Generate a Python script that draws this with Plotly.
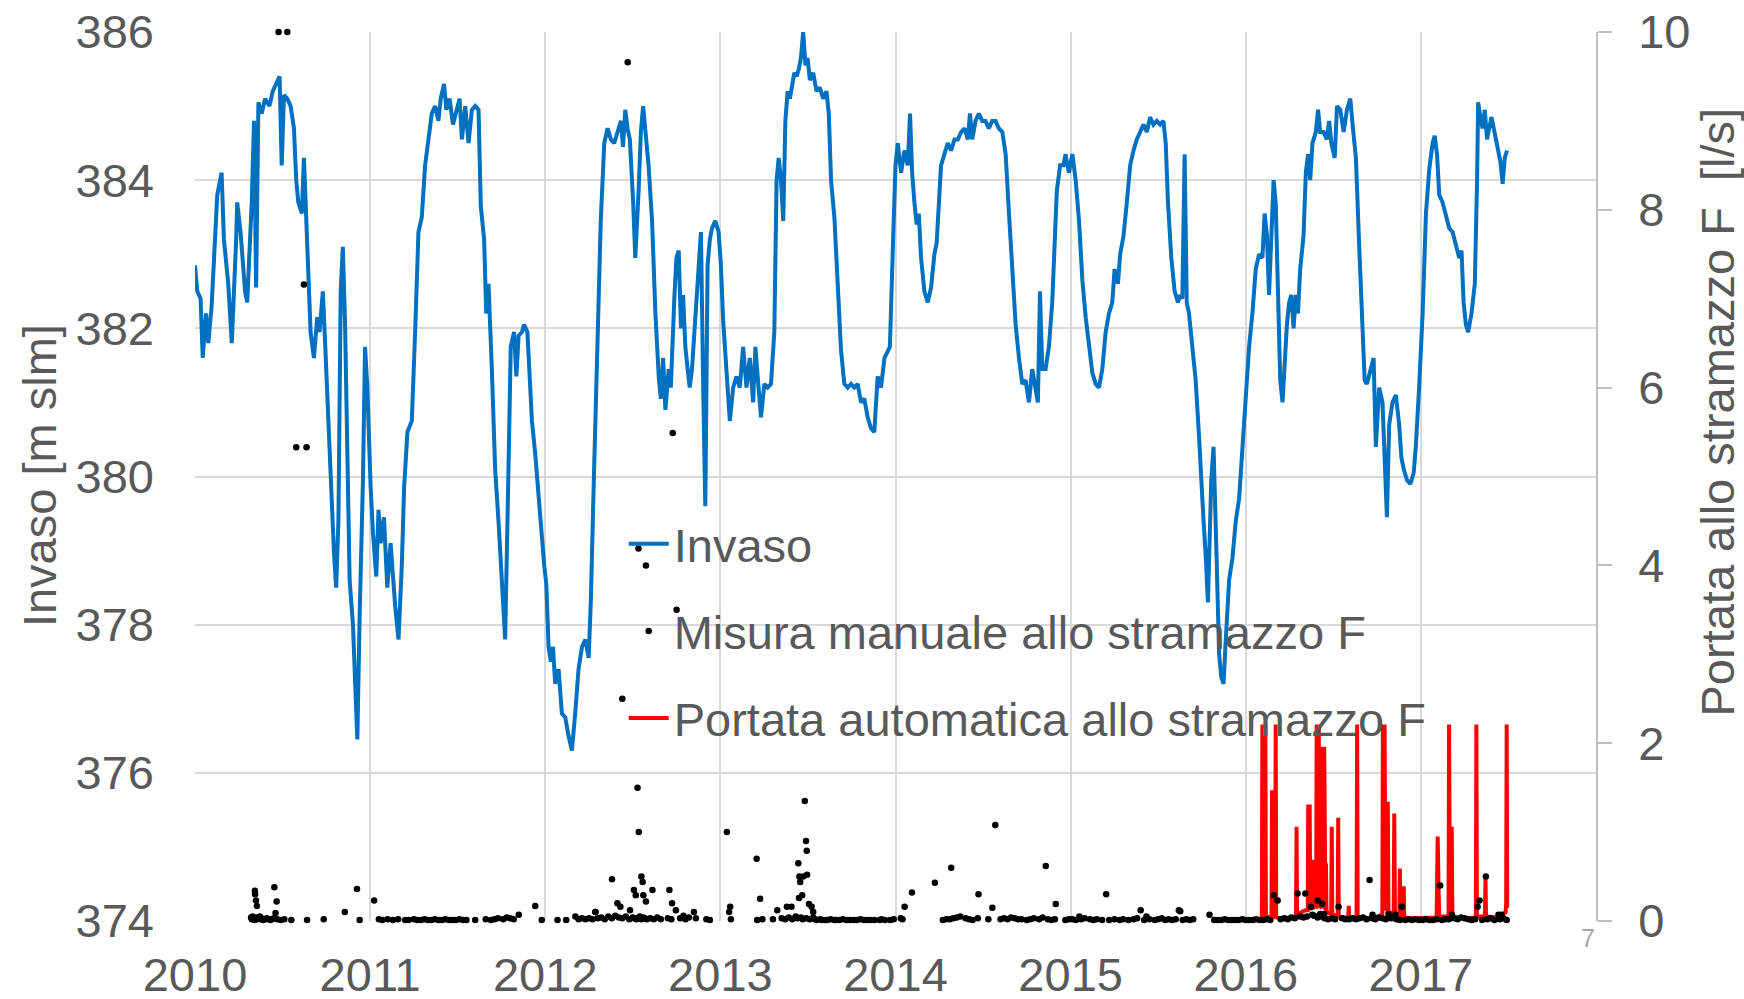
import plotly.graph_objects as go

# ---------------- data ----------------
inv_year = [2010.000, 2010.013, 2010.032, 2010.044, 2010.063, 2010.076, 2010.095, 2010.127, 2010.152, 2010.165,
            2010.190, 2010.210, 2010.235, 2010.241, 2010.260, 2010.286, 2010.298, 2010.324, 2010.337, 2010.349,
            2010.362, 2010.381, 2010.400, 2010.425, 2010.444, 2010.463, 2010.483, 2010.495, 2010.508, 2010.527,
            2010.546, 2010.565, 2010.578, 2010.590, 2010.610, 2010.622, 2010.641, 2010.660, 2010.679, 2010.698,
            2010.711, 2010.730, 2010.743, 2010.762, 2010.781, 2010.794, 2010.806, 2010.819, 2010.832, 2010.844,
            2010.857, 2010.870, 2010.883, 2010.902, 2010.914, 2010.927, 2010.940, 2010.959, 2010.971, 2010.984,
            2011.003, 2011.016, 2011.035, 2011.048, 2011.060, 2011.079, 2011.098, 2011.117, 2011.143, 2011.162,
            2011.181, 2011.194, 2011.213, 2011.238, 2011.257, 2011.276, 2011.295, 2011.314, 2011.333, 2011.352,
            2011.371, 2011.390, 2011.403, 2011.422, 2011.435, 2011.454, 2011.473, 2011.492, 2011.511, 2011.524,
            2011.543, 2011.562, 2011.581, 2011.600, 2011.619, 2011.632, 2011.651, 2011.663, 2011.676, 2011.695,
            2011.714, 2011.733, 2011.752, 2011.771, 2011.790, 2011.803, 2011.822, 2011.835, 2011.848, 2011.867,
            2011.879, 2011.898, 2011.911, 2011.924, 2011.943, 2011.962, 2011.981, 2011.994, 2012.006, 2012.019,
            2012.032, 2012.044, 2012.057, 2012.076, 2012.095, 2012.114, 2012.133, 2012.152, 2012.171, 2012.190,
            2012.210, 2012.229, 2012.248, 2012.260, 2012.279, 2012.298, 2012.317, 2012.337, 2012.356, 2012.375,
            2012.394, 2012.413, 2012.432, 2012.444, 2012.457, 2012.470, 2012.483, 2012.502, 2012.514, 2012.533,
            2012.546, 2012.559, 2012.571, 2012.590, 2012.610, 2012.629, 2012.648, 2012.660, 2012.673, 2012.686,
            2012.705, 2012.717, 2012.737, 2012.749, 2012.762, 2012.775, 2012.787, 2012.800, 2012.813, 2012.825,
            2012.838, 2012.851, 2012.863, 2012.876, 2012.889, 2012.902, 2012.914, 2012.927, 2012.940, 2012.952,
            2012.971, 2012.990, 2013.003, 2013.016, 2013.035, 2013.054, 2013.073, 2013.092, 2013.111, 2013.130,
            2013.149, 2013.168, 2013.187, 2013.200, 2013.213, 2013.232, 2013.251, 2013.270, 2013.289, 2013.308,
            2013.321, 2013.333, 2013.346, 2013.359, 2013.371, 2013.384, 2013.397, 2013.410, 2013.422, 2013.435,
            2013.448, 2013.460, 2013.473, 2013.486, 2013.498, 2013.511, 2013.530, 2013.549, 2013.568, 2013.587,
            2013.606, 2013.619, 2013.632, 2013.651, 2013.670, 2013.689, 2013.708, 2013.727, 2013.746, 2013.765,
            2013.784, 2013.803, 2013.822, 2013.841, 2013.860, 2013.879, 2013.898, 2013.917, 2013.937, 2013.956,
            2013.968, 2013.987, 2014.000, 2014.013, 2014.032, 2014.051, 2014.070, 2014.083, 2014.095, 2014.108,
            2014.121, 2014.133, 2014.146, 2014.165, 2014.184, 2014.203, 2014.222, 2014.235, 2014.248, 2014.260,
            2014.279, 2014.298, 2014.317, 2014.337, 2014.356, 2014.375, 2014.394, 2014.413, 2014.425, 2014.438,
            2014.457, 2014.476, 2014.495, 2014.514, 2014.533, 2014.552, 2014.571, 2014.590, 2014.610, 2014.629,
            2014.648, 2014.667, 2014.686, 2014.705, 2014.724, 2014.743, 2014.762, 2014.781, 2014.800, 2014.813,
            2014.825, 2014.838, 2014.857, 2014.876, 2014.895, 2014.908, 2014.921, 2014.940, 2014.959, 2014.971,
            2014.990, 2015.010, 2015.029, 2015.048, 2015.067, 2015.086, 2015.105, 2015.124, 2015.143, 2015.162,
            2015.181, 2015.200, 2015.219, 2015.238, 2015.251, 2015.270, 2015.283, 2015.302, 2015.321, 2015.340,
            2015.359, 2015.378, 2015.397, 2015.416, 2015.435, 2015.454, 2015.473, 2015.492, 2015.511, 2015.530,
            2015.543, 2015.556, 2015.575, 2015.594, 2015.613, 2015.625, 2015.638, 2015.651, 2015.663, 2015.676,
            2015.695, 2015.714, 2015.733, 2015.746, 2015.759, 2015.771, 2015.784, 2015.803, 2015.816, 2015.829,
            2015.848, 2015.860, 2015.873, 2015.886, 2015.905, 2015.924, 2015.943, 2015.962, 2015.981, 2016.000,
            2016.019, 2016.038, 2016.057, 2016.076, 2016.095, 2016.108, 2016.121, 2016.133, 2016.146, 2016.159,
            2016.171, 2016.184, 2016.197, 2016.210, 2016.222, 2016.235, 2016.248, 2016.260, 2016.273, 2016.286,
            2016.298, 2016.311, 2016.330, 2016.343, 2016.356, 2016.368, 2016.381, 2016.400, 2016.413, 2016.425,
            2016.444, 2016.463, 2016.476, 2016.489, 2016.508, 2016.521, 2016.540, 2016.559, 2016.578, 2016.597,
            2016.610, 2016.629, 2016.648, 2016.667, 2016.679, 2016.692, 2016.711, 2016.730, 2016.743, 2016.762,
            2016.781, 2016.806, 2016.819, 2016.838, 2016.857, 2016.876, 2016.889, 2016.902, 2016.921, 2016.940,
            2016.959, 2016.971, 2016.990, 2017.010, 2017.029, 2017.048, 2017.067, 2017.079, 2017.092, 2017.105,
            2017.124, 2017.143, 2017.162, 2017.181, 2017.200, 2017.219, 2017.232, 2017.244, 2017.257, 2017.270,
            2017.289, 2017.308, 2017.321, 2017.327, 2017.340, 2017.352, 2017.365, 2017.378, 2017.390, 2017.403,
            2017.416, 2017.429, 2017.441, 2017.454, 2017.467, 2017.479, 2017.492]

inv_level = [382.85, 382.5, 382.4, 381.6, 382.2, 381.8, 382.3, 383.8, 384.1, 383.2,
             382.6, 381.8, 383.2, 383.7, 383.3, 382.5, 382.35, 383.7, 384.8, 382.55,
             385.05, 384.9, 385.1, 385.0, 385.2, 385.3, 385.4, 384.2, 385.15, 385.1,
             385.0, 384.7, 384.0, 383.7, 383.55, 384.3, 383.0, 381.95, 381.6, 382.15,
             381.95, 382.5, 381.8, 380.75, 379.5, 378.95, 378.5, 379.4, 382.5, 383.1,
             382.05, 380.4, 378.6, 378.0, 377.1, 376.45, 378.1, 379.95, 381.75, 381.2,
             379.85, 379.25, 378.65, 379.55, 379.1, 379.45, 378.5, 379.1, 378.25, 377.8,
             378.8, 379.85, 380.6, 380.75, 381.95, 383.3, 383.5, 384.2, 384.55, 384.9,
             385.0, 384.8, 385.1, 385.3, 384.95, 385.1, 384.75, 384.95, 385.1, 384.55,
             385.0, 384.5, 384.95, 385.0, 384.95, 383.65, 383.2, 382.2, 382.6, 381.45,
             380.1, 379.4, 378.5, 377.8, 380.1, 381.75, 381.95, 381.35, 381.9, 381.95,
             382.05, 381.95, 381.35, 380.75, 380.3, 379.7, 379.25, 378.8, 378.55, 377.7,
             377.5, 377.7, 377.2, 377.4, 376.8, 376.75, 376.5, 376.3, 376.8, 377.4,
             377.7, 377.8, 377.55, 378.3, 380.1, 381.95, 383.45, 384.5, 384.7, 384.55,
             384.5, 384.65, 384.8, 384.45, 384.95, 384.7, 384.55, 383.7, 382.95, 383.85,
             384.65, 385.0, 384.65, 384.2, 383.45, 382.2, 381.35, 381.05, 381.6, 380.9,
             381.45, 381.2, 382.4, 382.95, 383.05, 382.0, 382.45, 381.75, 381.45, 381.2,
             381.45, 381.95, 382.4, 382.85, 383.3, 381.2, 379.6, 382.85, 383.2, 383.35,
             383.45, 383.3, 382.85, 382.1, 381.45, 380.75, 381.2, 381.35, 381.2, 381.75,
             381.2, 381.6, 381.0, 381.75, 381.35, 380.8, 381.25, 381.2, 381.25, 381.95,
             384.0, 384.3, 384.0, 383.45, 384.8, 385.2, 385.1, 385.3, 385.45, 385.4,
             385.5, 385.65, 386.0, 385.55, 385.65, 385.35, 385.45, 385.2, 385.25, 385.1,
             385.2, 384.9, 384.0, 383.5, 382.5, 381.7, 381.25, 381.2, 381.25, 381.2,
             381.25, 381.0, 381.05, 380.8, 380.65, 380.6, 381.35, 381.2, 381.6, 381.7,
             381.75, 383.25, 384.2, 384.5, 384.1, 384.4, 384.2, 384.9, 384.1, 383.7,
             383.4, 383.55, 382.95, 382.5, 382.35, 382.55, 383.0, 383.15, 383.85, 384.2,
             384.35, 384.5, 384.4, 384.55, 384.55, 384.65, 384.7, 384.55, 384.9, 384.55,
             384.8, 384.9, 384.8, 384.8, 384.7, 384.8, 384.8, 384.7, 384.65, 384.35,
             383.55, 382.7, 382.05, 381.6, 381.25, 381.3, 381.0, 381.45, 381.2, 381.0,
             382.5, 381.45, 381.45, 381.75, 382.35, 383.0, 383.85, 384.2, 384.2, 384.35,
             384.1, 384.35, 384.0, 383.45, 382.65, 382.15, 381.75, 381.4, 381.25, 381.2,
             381.45, 381.95, 382.2, 382.35, 382.8, 382.6, 383.0, 383.25, 383.7, 384.2,
             384.4, 384.55, 384.65, 384.75, 384.65, 384.85, 384.75, 384.8, 384.75, 384.8,
             384.5, 383.7, 382.95, 382.5, 382.35, 382.45, 382.4, 384.35, 382.35, 382.2,
             381.75, 381.3, 380.55, 379.85, 379.4, 378.95, 378.3, 379.95, 380.4, 379.3,
             377.6, 377.3, 377.2, 377.8, 378.6, 378.9, 379.4, 379.7, 380.4, 381.2,
             381.75, 382.2, 382.8, 383.0, 382.95, 383.55, 383.25, 382.45, 383.4, 384.0,
             383.7, 382.6, 381.3, 381.0, 381.6, 382.05, 382.35, 382.45, 382.0, 382.45,
             382.2, 382.8, 383.25, 384.1, 384.35, 384.0, 384.5, 384.65, 384.95, 384.65,
             384.65, 384.55, 384.8, 384.5, 384.3, 385.0, 384.95, 384.65, 384.95, 385.1,
             384.75, 384.3, 383.1, 382.05, 381.3, 381.25, 381.45, 381.6, 380.4, 381.2,
             381.0, 379.45, 380.7, 381.0, 381.1, 380.7, 380.25, 380.1, 379.95, 379.9,
             380.05, 380.4, 381.2, 382.2, 383.55, 384.15, 384.5, 384.6, 384.35, 383.8,
             383.7, 383.5, 383.35, 383.3, 383.1, 382.95, 383.05, 382.35, 382.05, 381.95,
             382.2, 382.6, 384.0, 385.05, 384.85, 384.7, 384.95, 384.55, 384.7, 384.85,
             384.7, 384.55, 384.45, 384.25, 383.95, 384.3, 384.4]

# Manual measurements at the weir (l/s)
dot_year = [
    2010.477, 2010.527, 2010.622, 2010.578, 2010.637, 2012.471, 2012.728, 2012.532, 2012.575, 2012.750, 2012.440,
    2012.527, 2012.534, 2013.482, 2013.037, 2013.207, 2013.489, 2013.493, 2013.445, 2014.570, 2014.858,
    2014.318, 2014.225, 2014.094, 2014.052, 2014.474, 2015.203, 2014.915, 2014.553, 2012.381, 2012.709,
    2012.612, 2012.549, 2012.556, 2012.506, 2012.517, 2012.560, 2012.575, 2012.412, 2012.429, 2012.484,
    2012.724, 2012.746, 2013.227, 2013.056, 2013.050, 2013.325, 2013.380, 2013.406, 2013.449, 2013.467,
    2013.456, 2013.451, 2013.473, 2013.495, 2013.506, 2013.521, 2013.530, 2012.849, 2012.789, 2012.287,
    2015.400, 2015.433, 2015.050, 2015.618,
    2010.342, 2010.343, 2010.348, 2010.353, 2010.453, 2010.466, 2010.460, 2010.925, 2011.023, 2010.855,
    2011.943, 2011.849, 2012.172, 2012.286,
    2015.626, 2015.793, 2016.160, 2016.182, 2016.296, 2016.340, 2016.372, 2016.411, 2016.437, 2016.380,
    2016.425, 2016.448, 2016.530, 2016.707, 2016.724, 2016.815, 2016.854, 2016.891, 2017.110, 2017.177,
    2017.324, 2017.335, 2017.371, 2017.443, 2017.460,
    2010.320, 2010.325, 2010.330, 2010.335, 2010.340, 2010.350, 2010.355, 2010.360, 2010.370, 2010.375,
    2010.380, 2010.390, 2010.400, 2010.410, 2010.420, 2010.430, 2010.440, 2010.450, 2010.470, 2010.490,
    2010.510, 2010.550, 2010.640, 2010.735, 2010.940, 2011.050, 2011.070, 2011.100, 2011.130, 2011.160,
    2011.200, 2011.220, 2011.250, 2011.270, 2011.290, 2011.310, 2011.330, 2011.350, 2011.370, 2011.390,
    2011.410, 2011.430, 2011.450, 2011.470, 2011.490, 2011.510, 2011.530, 2011.550, 2011.600, 2011.660,
    2011.690, 2011.710, 2011.730, 2011.760, 2011.780, 2011.800, 2011.820, 2011.980, 2012.070, 2012.120,
    2012.190, 2012.210, 2012.230, 2012.250, 2012.270, 2012.300, 2012.320, 2012.340, 2012.360, 2012.380,
    2012.400, 2012.420, 2012.440, 2012.460, 2012.480, 2012.500, 2012.510, 2012.520, 2012.530, 2012.540,
    2012.550, 2012.560, 2012.570, 2012.580, 2012.600, 2012.620, 2012.640, 2012.660, 2012.700, 2012.720,
    2012.770, 2012.800, 2012.820, 2012.860, 2012.920, 2012.940, 2013.060, 2013.210, 2013.240, 2013.300,
    2013.350, 2013.370, 2013.390, 2013.410, 2013.430, 2013.440, 2013.460, 2013.470, 2013.490, 2013.510,
    2013.530, 2013.540, 2013.550, 2013.570, 2013.580, 2013.600, 2013.610, 2013.630, 2013.650, 2013.660,
    2013.680, 2013.700, 2013.720, 2013.740, 2013.760, 2013.780, 2013.800, 2013.820, 2013.840, 2013.860,
    2013.880, 2013.910, 2013.920, 2013.940, 2013.970, 2013.990, 2014.030, 2014.040, 2014.270, 2014.290,
    2014.310, 2014.330, 2014.350, 2014.370, 2014.400, 2014.420, 2014.440, 2014.470, 2014.530, 2014.600,
    2014.620, 2014.640, 2014.660, 2014.680, 2014.700, 2014.720, 2014.750, 2014.770, 2014.790, 2014.820,
    2014.840, 2014.870, 2014.890, 2014.910, 2014.970, 2014.990, 2015.010, 2015.030, 2015.060, 2015.080,
    2015.110, 2015.130, 2015.150, 2015.180, 2015.220, 2015.250, 2015.280, 2015.300, 2015.330, 2015.360,
    2015.380, 2015.420, 2015.450, 2015.480, 2015.500, 2015.520, 2015.540, 2015.560, 2015.580, 2015.600,
    2015.640, 2015.660, 2015.680, 2015.700, 2015.820, 2015.840, 2015.860, 2015.880, 2015.900, 2015.920,
    2015.940, 2015.960, 2015.980, 2016.000, 2016.020, 2016.040, 2016.060, 2016.080, 2016.100, 2016.120,
    2016.140, 2016.200, 2016.220, 2016.240, 2016.260, 2016.280, 2016.310, 2016.330, 2016.350, 2016.390,
    2016.410, 2016.430, 2016.450, 2016.470, 2016.490, 2016.510, 2016.550, 2016.570, 2016.590, 2016.610,
    2016.630, 2016.650, 2016.670, 2016.690, 2016.720, 2016.740, 2016.760, 2016.780, 2016.800, 2016.830,
    2016.860, 2016.880, 2016.910, 2016.930, 2016.950, 2016.970, 2016.990, 2017.010, 2017.030, 2017.050,
    2017.070, 2017.090, 2017.120, 2017.140, 2017.160, 2017.190, 2017.210, 2017.230, 2017.250, 2017.270,
    2017.290, 2017.310, 2017.350, 2017.380, 2017.400, 2017.420, 2017.450, 2017.470, 2017.490]

dot_flow = [
    10.0, 10.0, 7.16, 5.33, 5.33, 9.66, 5.49, 4.19, 4.00, 3.50, 2.50,
    1.50, 1.00, 1.35, 1.00, 0.70, 0.90, 0.79, 0.65, 1.08, 0.62,
    0.60, 0.43, 0.32, 0.16, 0.30, 0.30, 0.19, 0.15, 0.47, 0.35,
    0.35, 0.50, 0.44, 0.35, 0.29, 0.29, 0.22, 0.20, 0.16, 0.12,
    0.20, 0.12, 0.25, 0.16, 0.10, 0.12, 0.16, 0.16, 0.26, 0.29,
    0.44, 0.50, 0.50, 0.52, 0.19, 0.16, 0.10, 0.10, 0.06, 0.10,
    0.12, 0.05, 0.05, 0.12,
    0.34, 0.30, 0.23, 0.17, 0.38, 0.22, 0.09, 0.36, 0.23, 0.10,
    0.17, 0.07, 0.05, 0.10,
    0.11, 0.07, 0.29, 0.23, 0.31, 0.31, 0.16, 0.23, 0.19, 0.07,
    0.08, 0.08, 0.16, 0.46, 0.07, 0.08, 0.07, 0.16, 0.40, 0.07,
    0.16, 0.23, 0.50, 0.07, 0.07,
    0.04, 0.02, 0.05, 0.03, 0.01, 0.04, 0.02, 0.03, 0.05, 0.02,
    0.03, 0.01, 0.02, 0.03, 0.02, 0.01, 0.02, 0.03, 0.02, 0.01,
    0.02, 0.01, 0.01, 0.02, 0.01, 0.02, 0.01, 0.02, 0.01, 0.02,
    0.01, 0.01, 0.02, 0.01, 0.01, 0.02, 0.01, 0.01, 0.02, 0.01,
    0.01, 0.02, 0.01, 0.01, 0.01, 0.02, 0.01, 0.01, 0.01, 0.02,
    0.01, 0.02, 0.03, 0.02, 0.04, 0.03, 0.02, 0.01, 0.01, 0.01,
    0.02, 0.03, 0.02, 0.03, 0.02, 0.03, 0.04, 0.02, 0.05, 0.03,
    0.06, 0.04, 0.03, 0.05, 0.02, 0.04, 0.03, 0.02, 0.03, 0.05,
    0.02, 0.04, 0.03, 0.02, 0.03, 0.02, 0.04, 0.02, 0.03, 0.02,
    0.03, 0.02, 0.04, 0.03, 0.02, 0.01, 0.02, 0.01, 0.02, 0.02,
    0.03, 0.02, 0.04, 0.02, 0.05, 0.03, 0.04, 0.02, 0.03, 0.02,
    0.04, 0.02, 0.01, 0.02, 0.01, 0.01, 0.01, 0.02, 0.01, 0.01,
    0.01, 0.02, 0.01, 0.01, 0.01, 0.01, 0.02, 0.01, 0.01, 0.01,
    0.01, 0.01, 0.02, 0.01, 0.01, 0.02, 0.03, 0.02, 0.01, 0.02,
    0.02, 0.03, 0.04, 0.05, 0.03, 0.02, 0.01, 0.03, 0.02, 0.02,
    0.03, 0.02, 0.04, 0.03, 0.02, 0.02, 0.01, 0.02, 0.03, 0.02,
    0.04, 0.02, 0.01, 0.02, 0.01, 0.02, 0.02, 0.01, 0.02, 0.03,
    0.02, 0.01, 0.02, 0.01, 0.01, 0.02, 0.01, 0.02, 0.01, 0.02,
    0.03, 0.01, 0.02, 0.01, 0.02, 0.03, 0.01, 0.02, 0.01, 0.02,
    0.01, 0.02, 0.01, 0.02, 0.01, 0.01, 0.01, 0.02, 0.01, 0.01,
    0.01, 0.01, 0.02, 0.01, 0.01, 0.01, 0.02, 0.01, 0.01, 0.02,
    0.01, 0.02, 0.03, 0.02, 0.04, 0.03, 0.05, 0.04, 0.05, 0.06,
    0.04, 0.05, 0.03, 0.02, 0.03, 0.02, 0.03, 0.02, 0.02, 0.03,
    0.02, 0.03, 0.04, 0.02, 0.03, 0.02, 0.04, 0.03, 0.02, 0.03,
    0.02, 0.01, 0.01, 0.02, 0.01, 0.02, 0.01, 0.01, 0.02, 0.01,
    0.01, 0.02, 0.01, 0.02, 0.02, 0.03, 0.02, 0.04, 0.03, 0.02,
    0.01, 0.02, 0.01, 0.02, 0.03, 0.01, 0.02, 0.03, 0.01]

# Automatic flow at the weir (l/s)
auto_year = [2016.088, 2016.092, 2016.095, 2016.098, 2016.109, 2016.112, 2016.115, 2016.147, 2016.150, 2016.153,
             2016.168, 2016.171, 2016.174, 2016.200, 2016.250, 2016.287, 2016.290, 2016.293, 2016.320, 2016.340,
             2016.354, 2016.357, 2016.361, 2016.365, 2016.368, 2016.384, 2016.387, 2016.390, 2016.402, 2016.405,
             2016.410, 2016.417, 2016.420, 2016.434, 2016.437, 2016.442, 2016.448, 2016.451, 2016.455, 2016.458,
             2016.461, 2016.488, 2016.491, 2016.494, 2016.525, 2016.528, 2016.531, 2016.560, 2016.585, 2016.588,
             2016.591, 2016.633, 2016.636, 2016.639, 2016.700, 2016.760, 2016.780, 2016.783, 2016.788, 2016.793,
             2016.797, 2016.808, 2016.811, 2016.815, 2016.845, 2016.848, 2016.852, 2016.877, 2016.880, 2016.883,
             2016.899, 2016.902, 2016.905, 2016.950, 2017.030, 2017.090, 2017.096, 2017.100, 2017.104, 2017.158,
             2017.161, 2017.166, 2017.176, 2017.180, 2017.250, 2017.314, 2017.317, 2017.320, 2017.366, 2017.369,
             2017.372, 2017.440, 2017.484, 2017.487, 2017.490, 2017.493]
auto_flow = [0.02, 0.03, 2.21, 0.05, 0.05, 2.21, 0.05, 0.04, 1.47, 0.05,
             0.05, 2.21, 0.04, 0.03, 0.04, 0.05, 1.06, 0.08, 0.10, 0.12,
             0.12, 1.31, 0.15, 1.31, 0.14, 0.15, 0.69, 0.16, 0.16, 2.21,
             0.18, 2.21, 0.17, 0.15, 1.96, 0.14, 1.96, 0.12, 0.12, 0.65,
             0.10, 0.08, 1.06, 0.07, 0.06, 1.16, 0.05, 0.04, 0.04, 0.17,
             0.04, 0.04, 2.21, 0.04, 0.03, 0.05, 0.08, 2.21, 0.12, 2.21,
             0.15, 0.12, 1.34, 0.10, 0.08, 1.21, 0.08, 0.06, 0.59, 0.05,
             0.05, 0.39, 0.04, 0.03, 0.03, 0.04, 0.95, 0.20, 0.05, 0.05,
             2.21, 0.10, 1.06, 0.05, 0.03, 0.04, 2.21, 0.05, 0.05, 0.50,
             0.05, 0.04, 0.10, 0.20, 2.21, 0.15]

year_ticks = [2010, 2011, 2012, 2013, 2014, 2015, 2016, 2017]
level_ticks = [374, 376, 378, 380, 382, 384, 386]
flow_ticks = [0, 2, 4, 6, 8, 10]

# ---------------- figure ----------------
FONT = "Liberation Sans, Arial, sans-serif"
GRAY = "#595959"
GRID = "#D9D9D9"

fig = go.Figure()

fig.add_trace(go.Scatter(
    x=inv_year, y=inv_level, mode="lines", name="Invaso",
    line=dict(color="#0070C0", width=4), yaxis="y",
    legendgroup="a", legendrank=1))

fig.add_trace(go.Scatter(
    x=auto_year, y=auto_flow, mode="lines", name="Portata automatica allo stramazzo F",
    line=dict(color="#FF0000", width=4), yaxis="y2",
    legendgroup="c", legendrank=3))

fig.add_trace(go.Scatter(
    x=dot_year, y=dot_flow, mode="markers", name="Misura manuale allo stramazzo F",
    marker=dict(color="#000000", size=6.5), yaxis="y2", cliponaxis=False,
    legendgroup="b", legendrank=2))

fig.update_layout(
    width=1744, height=999,
    margin=dict(l=195, r=148, t=32, b=78, autoexpand=False),
    paper_bgcolor="white", plot_bgcolor="white",
    font=dict(family=FONT, size=47, color=GRAY),
    showlegend=True,
    legend=dict(x=0.306, y=0.466, xanchor="left", yanchor="top",
                bgcolor="rgba(0,0,0,0)", font=dict(size=47, color=GRAY),
                traceorder="grouped", tracegroupgap=23, itemwidth=40),
    xaxis=dict(range=[2010, 2018], tickvals=year_ticks, ticktext=[str(v) for v in year_ticks],
               showgrid=True, gridcolor=GRID, gridwidth=1.6, zeroline=False, showline=False,
               ticks="", ticklabelstandoff=22, automargin=False,
               tickfont=dict(size=47, color=GRAY)),
    yaxis=dict(range=[374, 386], tickvals=level_ticks, showgrid=True, gridcolor=GRID, gridwidth=1.6,
               zeroline=False, showline=False, ticks="", ticklabelstandoff=40, automargin=False,
               tickfont=dict(size=47, color=GRAY)),
    yaxis2=dict(range=[0, 10], tickvals=flow_ticks, overlaying="y", side="right",
                showgrid=False, zeroline=False, showline=True, linecolor="#BFBFBF", linewidth=1.6,
                ticks="outside", ticklen=14, tickcolor="#BFBFBF", tickwidth=1.6,
                ticklabelstandoff=17, automargin=False, tickfont=dict(size=47, color=GRAY)),
    annotations=[
        dict(text="Invaso [m slm]", xref="paper", yref="paper", x=-0.111, y=0.501,
             textangle=-90, showarrow=False, font=dict(size=47, color=GRAY),
             xanchor="center", yanchor="middle"),
        dict(text="Portata allo stramazzo F\u00a0 [l/s]", xref="paper", yref="paper", x=1.087, y=0.573,
             textangle=-90, showarrow=False, font=dict(size=47, color=GRAY),
             xanchor="center", yanchor="middle"),
        dict(text="7", xref="paper", yref="paper", x=0.9943, y=-0.019, showarrow=False,
             font=dict(size=25, color="#A6A6A6"), xanchor="center", yanchor="middle"),
    ],
)

fig.write_html("out.html", config={"displayModeBar": False},
               post_script="document.body.style.margin='0';document.body.style.overflow='hidden';")
